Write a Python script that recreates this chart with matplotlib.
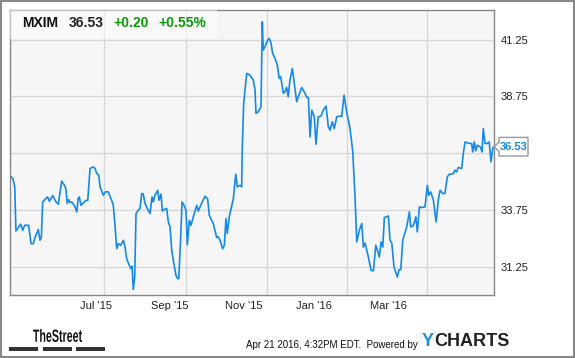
import matplotlib.pyplot as plt
from matplotlib.patches import Rectangle, Polygon, PathPatch
from matplotlib.textpath import TextPath
from matplotlib.font_manager import FontProperties
import matplotlib.transforms as mtransforms

plt.rcParams['font.family'] = ['Liberation Sans', 'DejaVu Sans']

# price of MXIM, x = days since Apr 21 2015
days = [1.0, 2.3, 3.6, 4.5, 6.0, 8.1, 9.6, 11.1, 14.1, 15.9, 17.6, 18.9, 21.4, 22.7, 23.7,
        24.7, 26.5, 28.5, 29.7, 32.3, 34.8, 36.5, 39.1, 41.6, 42.3, 43.3, 44.4, 45.4, 46.7,
        49.2, 50.5, 51.6, 52.4, 53.7, 55.4, 57.5, 58.8, 60.5, 63.0, 64.3, 65.6, 67.1, 68.1,
        70.6, 72.1, 74.3, 76.9, 78.1, 79.4, 80.7, 81.9, 83.7, 85.7, 87.0, 88.2, 90.2, 91.3,
        92.3, 93.2, 94.3, 95.3, 97.0, 98.3, 99.6, 100.8, 102.1, 103.8, 105.9, 107.4, 108.4,
        109.6, 111.7, 112.7, 114.2, 115.2, 116.4, 118.5, 119.7, 121.0, 122.3, 123.5, 125.5,
        126.8, 127.6, 129.1, 130.1, 131.6, 133.1, 134.1, 135.6, 136.9, 138.6, 141.2, 142.4,
        143.7, 146.2, 147.5, 149.5, 150.7, 153.7, 156.3, 157.5, 158.8, 160.8, 162.1, 163.3,
        164.3, 165.8, 168.9, 170.7, 171.9, 173.9, 175.2, 175.6, 176.7, 179.0, 181.5, 184.0,
        185.3, 186.0, 187.8, 189.8, 190.8, 191.5, 192.8, 194.9, 196.1, 197.4, 198.6, 200.4,
        202.1, 203.6, 204.7, 206.7, 207.9, 209.2, 210.4, 211.7, 213.5, 215.0, 216.8, 218.0,
        220.6, 223.1, 224.4, 225.6, 226.9, 228.2, 230.1, 231.4, 233.1, 235.2, 236.9, 239.0,
        240.7, 242.0, 243.7, 245.2, 247.1, 249.6, 250.8, 252.6, 254.6, 257.1, 259.2, 260.9,
        262.2, 264.2, 266.0, 267.2, 268.5, 271.0, 273.0, 274.8, 276.6, 277.8, 279.3, 280.6,
        281.9, 283.1, 286.1, 287.4, 288.7, 290.4, 292.9, 294.2, 295.5, 297.0, 300.0, 302.0,
        303.0, 304.6, 306.3, 306.8, 308.0, 309.6, 311.3, 313.8, 315.6, 316.6, 318.1, 320.1,
        322.2, 323.9, 325.2, 327.2, 328.9, 330.7, 332.2, 334.0, 335.2, 336.5, 337.8, 339.0,
        341.6, 342.8, 344.1, 345.8, 347.9, 349.1, 349.9, 351.1, 352.2, 353.4, 354.7, 355.9,
        356.9, 357.9, 359.2, 360.9, 362.4, 363.7, 365.0, 366.0]
price = [35.20, 35.10, 34.76, 32.82, 32.94, 33.12, 32.85, 33.07, 33.07, 32.26, 32.26, 32.53,
         32.88, 32.41, 32.53, 34.10, 34.20, 34.32, 34.13, 34.38, 34.10, 34.00, 35.02, 34.79,
         34.65, 34.03, 34.20, 34.07, 34.10, 33.88, 33.66, 34.25, 34.32, 33.95, 34.05, 34.17,
         34.17, 35.57, 35.64, 35.57, 35.35, 35.28, 34.76, 34.39, 34.54, 34.54, 34.17, 33.95,
         33.07, 32.04, 32.26, 32.19, 32.41, 32.11, 31.60, 31.31, 31.16, 31.26, 30.24, 30.79,
         33.59, 33.73, 33.81, 34.47, 34.44, 34.03, 33.81, 33.59, 34.32, 34.10, 34.39, 34.61,
         34.17, 34.44, 33.70, 33.76, 33.81, 33.22, 33.00, 31.97, 31.53, 30.87, 30.72, 30.72,
         32.56, 34.10, 33.95, 33.73, 32.22, 33.29, 33.07, 33.44, 33.95, 33.69, 33.88, 34.20,
         34.35, 34.22, 33.51, 33.15, 32.53, 32.56, 32.41, 32.04, 32.19, 33.37, 32.71, 33.44,
         34.25, 35.32, 34.76, 34.83, 34.76, 36.38, 38.44, 39.76, 39.68, 39.46, 39.02, 38.00,
         38.07, 38.29, 42.03, 40.79, 40.93, 41.23, 41.30, 41.08, 40.64, 40.42, 40.13, 39.54,
         39.61, 38.88, 38.95, 39.14, 38.73, 39.46, 39.98, 39.32, 38.51, 38.73, 39.14, 38.88,
         38.70, 38.70, 36.96, 38.14, 37.85, 36.64, 37.85, 37.88, 38.14, 38.32, 37.41, 37.26,
         37.63, 37.33, 37.85, 37.88, 37.85, 38.80, 38.05, 37.35, 36.30, 34.32, 32.34, 32.85,
         33.15, 32.11, 32.29, 31.67, 31.09, 31.06, 32.19, 31.97, 31.67, 32.34, 32.11, 33.41,
         33.48, 32.41, 32.29, 31.23, 30.79, 31.12, 31.12, 32.41, 33.00, 33.66, 33.00, 33.03,
         33.29, 33.44, 32.78, 33.88, 33.85, 33.88, 34.83, 34.39, 34.54, 34.20, 33.22, 34.20,
         34.61, 34.47, 34.47, 35.20, 35.32, 35.32, 35.35, 35.50, 35.42, 35.62, 35.57, 36.23,
         36.74, 36.70, 36.67, 36.67, 36.30, 36.74, 36.35, 36.60, 36.55, 36.50, 36.30, 37.33,
         36.67, 36.67, 36.74, 35.86, 36.45, 36.53]

month_starts = [71, 133, 194, 255, 315]
label_pos = [65, 121, 177, 230, 286]
month_labels = ["Jul '15", "Sep '15", "Nov '15", "Jan '16", "Mar '16"]
y_ticks = [31.25, 33.75, 36.25, 38.75, 41.25]
last_price = 36.53

blue = '#1589e8'

fig = plt.figure(figsize=(5.75, 3.58), dpi=100)
fig.patch.set_facecolor('white')
# outer border
fig.patches.append(Rectangle((0.001, 0.002), 0.997, 0.995, transform=fig.transFigure,
                             fill=False, edgecolor='#888888', linewidth=1.5))

ax = fig.add_axes([10 / 575, 1 - 295 / 358, 484 / 575, 285 / 358])
ax.set_facecolor('#f6f6f6')
ax.plot(days, price, color=blue, linewidth=1.2, zorder=3)
ax.set_xlim(0, 366)
ax.set_ylim(30.0, 42.55)

for m in month_starts:
    ax.axvline(m, color='#d8d8d8', linewidth=1, zorder=1)
for v in y_ticks:
    ax.axhline(v, color='#d8d8d8', linewidth=1, zorder=1)

ax.set_xticks(label_pos)
ax.set_xticklabels(month_labels, fontsize=8)
# the 36.25 label sits under the last-price tag, so it is not shown
ax.set_yticks(y_ticks)
ax.set_yticklabels(['' if v == 36.25 else '%.2f' % v for v in y_ticks], fontsize=8)
ax.yaxis.tick_right()
ax.tick_params(axis='both', length=0, colors='#222222')
ax.tick_params(axis='x', pad=4)
ax.tick_params(axis='y', pad=5)
for s in ax.spines.values():
    s.set_color('#888888')
    s.set_linewidth(1)

# header box
ax.add_patch(Rectangle((0, 0.9), 0.428, 0.1, transform=ax.transAxes,
                       facecolor='white', alpha=0.5, edgecolor='none', zorder=4))
ty = 1 - 23 / 358
fig.text(22 / 575, ty, 'MXIM', fontsize=10, fontweight='bold', color='#111111', va='center')
fig.text(69 / 575, ty, '36.53', fontsize=10, fontweight='bold', color='#222222', va='center')
fig.text(113 / 575, ty, '+0.20', fontsize=10, fontweight='bold', color='#0a9a0a', va='center')
fig.text(158 / 575, ty, '+0.55%', fontsize=10, fontweight='bold', color='#0a9a0a', va='center')

# last price tag
trans = mtransforms.blended_transform_factory(fig.transFigure, ax.transData)
tag = Polygon([(494 / 575, last_price), (499 / 575, last_price + 0.2), (499 / 575, last_price + 0.41),
               (528 / 575, last_price + 0.41), (528 / 575, last_price - 0.41),
               (499 / 575, last_price - 0.41), (499 / 575, last_price - 0.2)],
              closed=True, transform=trans, facecolor='white', edgecolor='#999999',
              linewidth=1, clip_on=False, zorder=5)
ax.add_patch(tag)
ax.text(513.5 / 575, last_price, '%.2f' % last_price, transform=trans, fontsize=8,
        fontweight='bold', color=blue, ha='center', va='center', zorder=6, clip_on=False)

# footer: condensed "TheStreet" logo text
tp = TextPath((0, 0), 'TheStreet', size=10,
              prop=FontProperties(family='Liberation Sans', weight='bold'))
ext = tp.get_extents()
sx = 0.49 / ext.width
sy = 0.13 / ext.height
logo_tr = (mtransforms.Affine2D().translate(-ext.x0, -ext.y0).scale(sx, sy)
           .translate(0.33, (358 - 342) / 100) + fig.dpi_scale_trans)
fig.patches.append(PathPatch(tp, transform=logo_tr, facecolor='#111111', edgecolor='none'))
for x0, x1 in [(9, 38), (43, 72), (76, 105)]:
    fig.patches.append(Rectangle((x0 / 575, 1 - 351 / 358), (x1 - x0) / 575, 4 / 358,
                                 transform=fig.transFigure, facecolor='#333333', edgecolor='none'))
fig.text(418 / 575, 1 - 345 / 358, 'Apr 21 2016, 4:32PM EDT.  Powered by', fontsize=7,
         color='#111111', ha='right', va='center')
fig.text(422 / 575, 1 - 342 / 358, 'Y', fontsize=13, fontweight='bold', color='#1a8fe0', va='center')
fig.text(434 / 575, 1 - 342 / 358, 'CHARTS', fontsize=13, fontweight='bold', color='#222222', va='center')

fig.savefig('out.png', dpi=100)
